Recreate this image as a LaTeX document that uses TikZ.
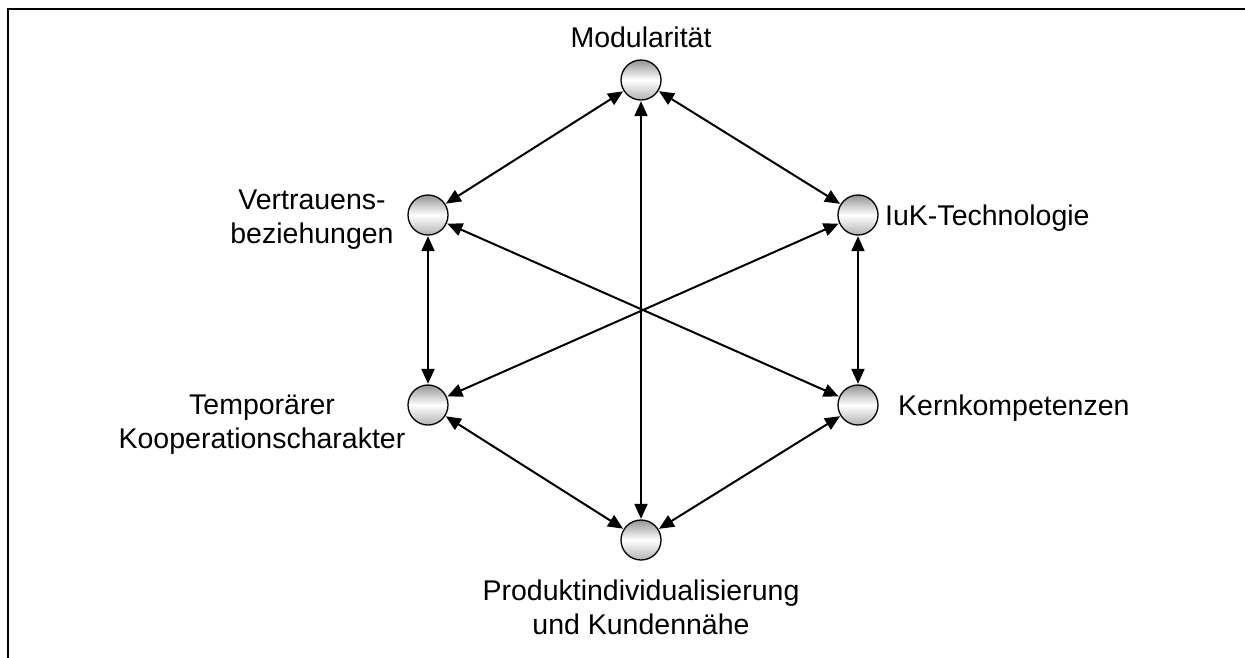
\documentclass[tikz,border=0pt]{standalone}
\usepackage{fontspec}
\setmainfont{Liberation Sans}
\usetikzlibrary{arrows.meta}
\begin{document}
\begin{tikzpicture}[x=1pt,y=-1pt,
  ball/.style={circle,draw,line width=1.3pt,minimum size=40pt,inner sep=0pt,
    top color=black!42,bottom color=black!30,middle color=white},
  lbl/.style={inner sep=0pt,font=\fontsize{28.5}{34}\selectfont,align=center},
  link/.style={line width=2pt,{Triangle[length=15pt,width=13pt]}-{Triangle[length=15pt,width=13pt]},shorten <=0.5pt,shorten >=0.5pt}]
\useasboundingbox (0,0) rectangle (1245,657);
\draw[line width=2.5pt] (8,660) -- (8,9) -- (1250,9);
\node[ball] (mod) at (641,80) {};
\node[ball] (ver) at (428,215) {};
\node[ball] (iuk) at (858,215) {};
\node[ball] (tem) at (428,405) {};
\node[ball] (ker) at (858,405) {};
\node[ball] (pro) at (641,540) {};
\node[lbl,anchor=base] (tmod) at (641,47) {Modularität};
\node[lbl,anchor=north] (tver) at (312,190) {Vertrauens-\\beziehungen};
\node[lbl,anchor=base west] (tiuk) at (885,225) {IuK-Technologie};
\node[lbl,anchor=north] (ttem) at (262,395) {Temporärer\\Kooperationscharakter};
\node[lbl,anchor=base west] (tker) at (898,415) {Kernkompetenzen};
\node[lbl,anchor=north] (tpro) at (641,580) {Produktindividualisierung\\und Kundennähe};
\draw[link] (mod) -- (ver);
\draw[link] (mod) -- (iuk);
\draw[link] (mod) -- (pro);
\draw[link] (ver) -- (tem);
\draw[link] (ver) -- (ker);
\draw[link] (iuk) -- (ker);
\draw[link] (iuk) -- (tem);
\draw[link] (tem) -- (pro);
\draw[link] (ker) -- (pro);
\end{tikzpicture}
\end{document}
